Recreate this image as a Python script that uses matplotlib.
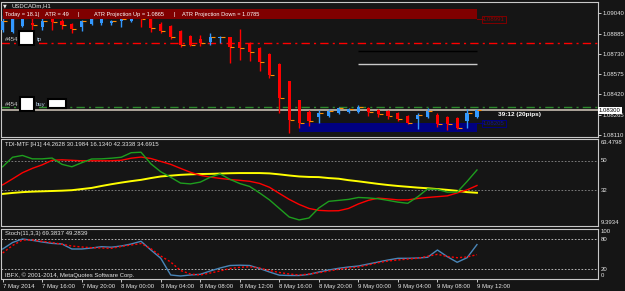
import matplotlib.pyplot as plt
from matplotlib.patches import Rectangle

plt.rcParams['font.family'] = ['Liberation Sans', 'DejaVu Sans']

W, H = 625, 291
BG = '#151515'
FG = '#e6e6e6'
BULL = '#3399ff'
BEAR = '#ff0000'

# USDCAD H1, 7 May 12:00 .. 9 May 12:00
open_ = [1.08912, 1.08897, 1.08943, 1.08968, 1.08935, 1.08996, 1.08983, 1.08958, 1.08938, 1.08958,
         1.08964, 1.08968, 1.08983, 1.08983, 1.09009, 1.09002, 1.08958, 1.08943, 1.08905, 1.08867,
         1.08844, 1.08821, 1.08849, 1.08859, 1.08821, 1.08806, 1.08775, 1.08729, 1.08653, 1.08523,
         1.08378, 1.08286, 1.08248, 1.08255, 1.08278, 1.08286, 1.08286, 1.08316, 1.08301, 1.08293,
         1.08278, 1.08255, 1.08232, 1.08248, 1.08263, 1.08248, 1.08240, 1.08217, 1.08248]
high = [1.09027, 1.09050, 1.09042, 1.09004, 1.09004, 1.09004, 1.08996, 1.08968, 1.08989, 1.09009,
        1.09009, 1.08989, 1.09014, 1.09040, 1.09014, 1.09009, 1.08974, 1.08951, 1.08912, 1.08874,
        1.08874, 1.08889, 1.08867, 1.08861, 1.08920, 1.08821, 1.08783, 1.08737, 1.08660, 1.08523,
        1.08378, 1.08301, 1.08301, 1.08309, 1.08324, 1.08316, 1.08339, 1.08324, 1.08309, 1.08301,
        1.08286, 1.08263, 1.08278, 1.08313, 1.08278, 1.08255, 1.08244, 1.08309, 1.08309]
low = [1.08897, 1.08886, 1.08935, 1.08912, 1.08912, 1.08912, 1.08920, 1.08892, 1.08907, 1.08951,
       1.08951, 1.08951, 1.08938, 1.08976, 1.08938, 1.08899, 1.08889, 1.08847, 1.08783, 1.08791,
       1.08791, 1.08798, 1.08813, 1.08660, 1.08683, 1.08676, 1.08599, 1.08546, 1.08278, 1.08125,
       1.08164, 1.08179, 1.08202, 1.08248, 1.08271, 1.08278, 1.08278, 1.08255, 1.08248, 1.08232,
       1.08217, 1.08194, 1.08156, 1.08240, 1.08171, 1.08148, 1.08156, 1.08164, 1.08240]
close = [1.08983, 1.09004, 1.09004, 1.08951, 1.08981, 1.08976, 1.08951, 1.08920, 1.08983, 1.09002,
         1.09002, 1.08983, 1.08994, 1.09035, 1.08994, 1.08925, 1.08905, 1.08859, 1.08798, 1.08798,
         1.08813, 1.08859, 1.08861, 1.08783, 1.08775, 1.08744, 1.08668, 1.08569, 1.08393, 1.08225,
         1.08202, 1.08217, 1.08278, 1.08296, 1.08316, 1.08309, 1.08324, 1.08286, 1.08271, 1.08255,
         1.08232, 1.08202, 1.08263, 1.08293, 1.08194, 1.08194, 1.08164, 1.08278, 1.08300]

# TDI buffers
tdi_green = [46.3, 52.2, 53.3, 51.2, 51.2, 51.7, 47.8, 46.3, 48.8, 51.1,
             51.2, 51.6, 52.2, 55.0, 55.3, 48.1, 43.2, 39.8, 36.2, 35.7,
             36.8, 39.8, 41.9, 38.5, 35.9, 34.1, 30.1, 25.8, 20.5, 15.2,
             13.4, 14.6, 20.8, 24.9, 25.5, 26.1, 27.3, 27.0, 26.5, 25.5,
             24.4, 23.7, 27.7, 32.6, 32.3, 30.6, 30.6, 37.2, 44.3]
tdi_red = [35.1, 38.8, 42.6, 45.3, 47.5, 50.3, 50.6, 50.3, 50.0, 50.0,
           50.0, 50.0, 50.3, 51.6, 52.3, 51.4, 49.6, 47.8, 45.3, 42.9,
           41.0, 39.9, 39.1, 38.4, 37.9, 37.3, 36.0, 33.6, 29.8, 26.1,
           23.0, 20.5, 19.3, 19.0, 19.1, 20.5, 23.3, 25.5, 26.9, 26.4,
           25.8, 25.8, 26.7, 27.3, 27.8, 28.3, 30.1, 32.0, 34.7]
tdi_yellow = [29.5, 30.1, 30.6, 30.9, 31.1, 31.3, 31.5, 31.8, 32.5, 33.2,
              34.4, 35.5, 36.5, 37.4, 38.2, 39.3, 40.3, 40.8, 41.3, 41.6,
              41.8, 41.9, 42.1, 42.3, 42.4, 42.4, 42.4, 42.2, 41.6, 40.9,
              40.3, 40.0, 39.9, 39.3, 38.9, 38.0, 37.3, 36.5, 35.7, 35.0,
              34.4, 33.9, 33.4, 33.0, 32.5, 32.0, 31.4, 30.6, 30.2]

# Stochastic(11,3,3)
stoch_main = [60.6, 73.6, 80.6, 78.0, 74.6, 71.8, 70.6, 60.6, 60.6, 62.6,
              65.2, 64.2, 66.6, 70.6, 76.0, 58.6, 42.0, 8.6, 6.6, 8.6,
              10.0, 16.6, 22.6, 27.6, 28.2, 27.6, 21.6, 14.6, 8.2, 7.6,
              7.6, 9.8, 14.6, 18.6, 22.0, 24.6, 26.6, 30.6, 34.6, 38.6,
              42.0, 42.0, 42.6, 44.0, 58.6, 45.2, 34.0, 43.2, 69.4]
stoch_signal = [52.6, 67.6, 78.6, 78.6, 76.0, 73.6, 70.0, 66.6, 64.6, 63.2,
                62.6, 62.0, 65.6, 68.6, 71.6, 61.2, 46.6, 34.6, 17.6, 10.6,
                8.6, 12.6, 16.6, 21.6, 24.0, 25.0, 22.6, 17.6, 13.6, 10.6,
                8.6, 10.6, 13.0, 16.6, 20.0, 22.6, 24.6, 28.6, 33.2, 36.6,
                38.6, 40.6, 42.0, 46.0, 50.0, 45.6, 43.2, 44.6, 49.3]

time_labels = ['7 May 2014', '7 May 16:00', '7 May 20:00', '8 May 00:00', '8 May 04:00',
               '8 May 08:00', '8 May 12:00', '8 May 16:00', '8 May 20:00', '9 May 00:00',
               '9 May 04:00', '9 May 08:00', '9 May 12:00']
price_ticks = [1.09040, 1.08885, 1.08730, 1.08575, 1.08420, 1.08265, 1.08110]

tp_level = 1.08815
buy_level = 1.08322
bid = 1.08300
atr_box = (1.08996, 1.09071)
low_box = (1.08132, 1.08205)
line_black = 1.08752
line_white = 1.08653

fig = plt.figure(figsize=(W / 100, H / 100), dpi=100, facecolor=BG)


def pax(x0, y0, x1, y1):
    a = fig.add_axes([x0 / W, 1 - y1 / H, (x1 - x0) / W, (y1 - y0) / H])
    a.set_facecolor(BG)
    for s in a.spines.values():
        s.set_color('#c8c8c8')
        s.set_linewidth(0.8)
    a.set_xlim(-0.12, 60.25)
    a.set_xticks([])
    a.set_yticks([])
    return a


def ptext(x, y, s, **kw):
    kw.setdefault('fontsize', 4.3)
    kw.setdefault('color', FG)
    kw.setdefault('va', 'center')
    return fig.text(x / W, 1 - y / H, s, **kw)


def pbox(x0, y0, x1, y1, fc, ec, lw=1.0):
    fig.patches.append(Rectangle((x0 / W, 1 - y1 / H), (x1 - x0) / W, (y1 - y0) / H,
                                 transform=fig.transFigure, fc=fc, ec=ec, lw=lw, zorder=5))


n = len(close)
bars = list(range(n))

# ---- main chart
ax = pax(1.5, 1.5, 598, 137)
ax.set_ylim(1.08095, 1.09130)
cols = [BULL if c >= o else BEAR for o, c in zip(open_, close)]
ax.vlines(bars, low, high, colors=cols, lw=1, zorder=3)
bottoms = [min(o, c) for o, c in zip(open_, close)]
heights = [max(abs(c - o), 0.00002) for o, c in zip(open_, close)]
ax.bar(bars, heights, bottom=bottoms, width=0.32, color=cols, lw=0, zorder=3)
# small orange close marks
ax.hlines(close, [b + 0.05 for b in bars], [b + 0.45 for b in bars],
          color='#ff8c00', lw=0.8, zorder=3)

ax.add_patch(Rectangle((0, atr_box[0]), 48, atr_box[1] - atr_box[0], fc='#800000', ec='none', zorder=4))
ax.add_patch(Rectangle((30, low_box[0]), 18, low_box[1] - low_box[0], fc='#000080', ec='none', zorder=2))
ax.axhline(tp_level, color='#ff0000', lw=1, ls=(0, (6, 3, 1.5, 3)), zorder=2)
ax.axhline(buy_level, color='#2e8b2e', lw=1, ls=(0, (6, 3, 1.5, 3)), zorder=2)
ax.axhline(bid, color='#b8b0a4', lw=1.3, zorder=2)
ax.hlines(line_black, 36, 48, color='#000000', lw=1, zorder=2)
ax.hlines(line_white, 36, 48, color='#c8c8c8', lw=1, zorder=2)
ax.plot([48, 48.6], [atr_box[0], atr_box[0]], color='#800000', lw=0.8)
ax.plot([48, 48.6], [low_box[1], low_box[1]], color='#000080', lw=0.8)

ax.yaxis.tick_right()
ax.set_yticks(price_ticks)
ax.set_yticklabels(['%.5f' % v for v in price_ticks])
ax.tick_params(axis='y', direction='out', length=2, width=0.6, pad=1.5,
               colors=FG, labelsize=4.3)

ptext(3, 5.5, '\u25bc', fontsize=3.5, family='DejaVu Sans')
ptext(11, 5.5, 'USDCADm,H1')
for xp, s in [(5, 'Today = 18.1'), (38, '|'), (45, 'ATR = 49'), (78, '|'),
              (94, 'ATR Projection Up = 1.0865'), (173, '|'), (182, 'ATR Projection Down = 1.0785')]:
    ptext(xp, 14.5, s, color='#ffffff', zorder=6, fontsize=4.1)
ptext(483, 19.5, '1.08991', color='#900000',
      bbox=dict(boxstyle='square,pad=0.15', fc='none', ec='#800000', lw=0.7))
ptext(483, 123.5, '1.08205', color='#1010a0',
      bbox=dict(boxstyle='square,pad=0.15', fc='none', ec='#000080', lw=0.7))

ptext(5, 39.5, '#454', color='#c8c8c8')
pbox(19, 31, 34, 45, '#ffffff', '#000000', lw=1.5)
ptext(36.5, 39.5, 'tp', color='#b0c8e0')
ptext(5, 104, '#454', color='#c8c8c8')
pbox(20, 97, 34, 111, '#ffffff', '#000000', lw=1.5)
ptext(36, 104, 'buy', color='#b0c8e0')
pbox(48, 98.5, 66, 108, '#ffffff', '#000000', lw=1.5)
ptext(498, 114.5, '39:12 (20pips)', color='#ffffff', fontweight='bold', fontsize=4.6)
ptext(599, 110.5, '1.08300', color='#000000', zorder=7,
      bbox=dict(boxstyle='square,pad=0.2', fc='#ffffff', ec='none'))

# ---- TDI
tx = pax(1.5, 139, 598, 226.4)
tx.set_ylim(9.3934, 63.4798)
for lv in (50, 32):
    tx.axhline(lv, color='#8c8c8c', lw=0.6, ls=(0, (2, 2)))
tx.plot(bars, tdi_yellow, color='#ffff00', lw=1.4)
tx.plot(bars, tdi_red, color='#ff0000', lw=1)
tx.plot(bars, tdi_green, color='#1e9e1e', lw=1)
ptext(5, 144.3, 'TDI-MTF [H1] 44.2628 30.1984 16.1340 42.3338 34.6915')
ptext(601, 143, '63.4798')
ptext(601, 161, '50')
ptext(601, 190, '32')
ptext(601, 222, '9.3934')

# ---- Stochastic
sx = pax(1.5, 229.3, 598, 279.3)
sx.set_ylim(0, 100)
for lv in (80, 20):
    sx.axhline(lv, color='#d0d0d0', lw=0.6, ls=(0, (2, 2)))
sx.plot(bars, stoch_main, color='#4a86b8', lw=1)
sx.plot(bars, stoch_signal, color='#ff0000', lw=1, ls=(0, (1.5, 1.5)))
ptext(5, 233.3, 'Stoch(11,3,3) 69.3837 49.2839')
ptext(5, 275.5, 'IBFX, \u00a9 2001-2014, MetaQuotes Software Corp.')
ptext(601, 231.7, '100')
ptext(601, 239.3, '80')
ptext(601, 269.3, '20')
ptext(601, 275.7, '0')

sx.set_xticks(bars[::4])
sx.set_xticklabels(time_labels, ha='left')
sx.tick_params(axis='x', direction='out', length=2.5, width=0.6, pad=1,
               colors=FG, labelsize=4.3)

fig.savefig('out.png', dpi=100, facecolor=BG)
